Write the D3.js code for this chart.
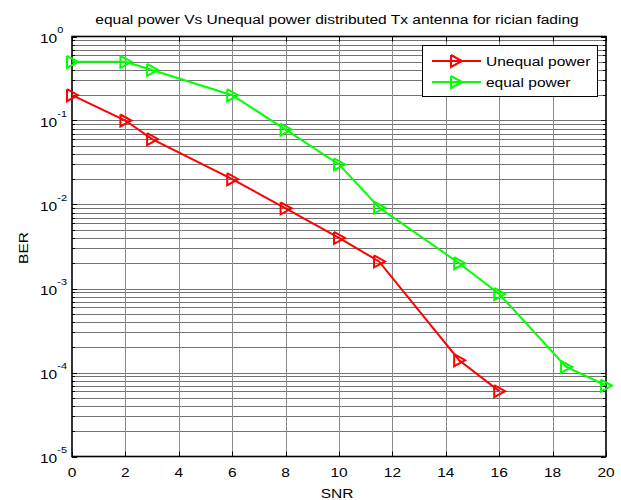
<!DOCTYPE html>
<html>
<head>
<meta charset="utf-8">
<script src="https://cdn.jsdelivr.net/npm/d3@7"></script>
<style>
  body { margin: 0; background: #fff; }
  svg text { font-family: 'Liberation Sans', Arial, sans-serif; fill: #000; }
</style>
</head>
<body>
<div id="chart"></div>
<script>
// values
const snrUnequal = [0, 2, 3, 6, 8, 10, 11.5, 14.5, 16]
const berUnequal = [0.2, 0.1, 0.06, 0.02, 0.009, 0.004, 0.0021, 1.4e-4, 6e-5]
const snrEqual = [0, 2, 3, 6, 8, 10, 11.5, 14.5, 16, 18.5, 20]
const berEqual = [0.5, 0.5, 0.4, 0.2, 0.078, 0.03, 0.0092, 0.002, 8.6e-4, 1.17e-4, 7e-5]
const xTicks = [0, 2, 4, 6, 8, 10, 12, 14, 16, 18, 20]
const yExponents = [0, -1, -2, -3, -4, -5]
const seriesNames = ['Unequal power', 'equal power']
const seriesColors = ['#ff0000', '#00ff00']

const W = 621, H = 500
const pLeft = 72, pRight = 606, pTop = 36.5, pBottom = 456.5
const fs = 13.5, sx = 1.15

const svg = d3.select('#chart').append('svg').attr('width', W).attr('height', H)

const x = d3.scaleLinear().domain([0, 20]).range([pLeft, pRight])
const y = d3.scaleLog().domain([1e-5, 1]).range([pBottom, pTop])

const txt = (tx, ty, s, anchor = 'start', extra = '') =>
  svg.append('text')
    .attr('transform', `translate(${tx},${ty}) ${extra} scale(${sx},1)`)
    .attr('text-anchor', anchor)
    .style('font-size', fs + 'px')
    .text(s)

// grid
const minors = []
yExponents.slice(1).forEach(e => {
  for (let m = 1; m <= 9; m++) minors.push(m * Math.pow(10, e))
})
const grid = svg.append('g').attr('stroke-width', 1)
grid.selectAll('line.h').data(minors.filter(v => v < 1 && v > 1e-5)).join('line')
  .attr('stroke', '#747474')
  .attr('x1', pLeft).attr('x2', pRight)
  .attr('y1', d => Math.round(y(d)) + 0.5).attr('y2', d => Math.round(y(d)) + 0.5)
grid.selectAll('line.v').data(xTicks.slice(1, -1)).join('line')
  .attr('stroke', '#8a8a8a')
  .attr('y1', pTop).attr('y2', pBottom)
  .attr('x1', d => Math.round(x(d)) + 0.5).attr('x2', d => Math.round(x(d)) + 0.5)

// ticks (inside, all four sides)
const ticks = svg.append('g').attr('stroke', '#000').attr('stroke-width', 1)
xTicks.forEach(v => {
  const px = Math.round(x(v)) + 0.5
  ticks.append('line').attr('x1', px).attr('x2', px).attr('y1', pBottom).attr('y2', pBottom - 5)
  ticks.append('line').attr('x1', px).attr('x2', px).attr('y1', pTop).attr('y2', pTop + 5)
})
minors.concat([1]).forEach(v => {
  const py = Math.round(y(v)) + 0.5
  const major = Math.abs(Math.log10(v) - Math.round(Math.log10(v))) < 1e-9
  const len = major ? 5 : 3
  ticks.append('line').attr('x1', pLeft).attr('x2', pLeft + len).attr('y1', py).attr('y2', py)
  ticks.append('line').attr('x1', pRight).attr('x2', pRight - len).attr('y1', py).attr('y2', py)
})

// axes box
svg.append('rect')
  .attr('x', pLeft).attr('y', pTop).attr('width', pRight - pLeft).attr('height', pBottom - pTop)
  .attr('fill', 'none').attr('stroke', '#000').attr('stroke-width', 1.6)

// tick labels
xTicks.forEach(v => txt(x(v), 476.5, v, 'middle'))
yExponents.forEach(e => {
  const t = txt(40, y(Math.pow(10, e)) + 6.5, '10')
  t.append('tspan').attr('dy', -10).style('font-size', '9.5px').text(e === 0 ? '0' : '-' + Math.abs(e))
})

// titles
txt(337, 24, 'equal power Vs Unequal power distributed Tx antenna for rician fading', 'middle')
txt(337, 498, 'SNR', 'middle')
txt(28, 248, 'BER', 'middle', 'rotate(-90)')

// series
const tri = d3.line()([[-5, -6], [6, 0], [-5, 6], [-5, -6]])
const series = [
  snrUnequal.map((s, i) => [s, berUnequal[i]]),
  snrEqual.map((s, i) => [s, berEqual[i]])
]
const line = d3.line().x(d => x(d[0])).y(d => y(d[1]))
series.forEach((pts, k) => {
  const g = svg.append('g')
  g.append('path').attr('d', line(pts)).attr('fill', 'none')
    .attr('stroke', seriesColors[k]).attr('stroke-width', 2)
  g.selectAll('path.m').data(pts).join('path')
    .attr('d', tri)
    .attr('transform', d => `translate(${x(d[0])},${y(d[1])})`)
    .attr('fill', 'none').attr('stroke', seriesColors[k]).attr('stroke-width', 2)
})

// legend
svg.append('rect').attr('x', 422.5).attr('y', 45.5).attr('width', 175).attr('height', 51)
  .attr('fill', '#fff').attr('stroke', '#000').attr('stroke-width', 1)
seriesNames.forEach((name, k) => {
  const ly = 61 + k * 21
  svg.append('line').attr('x1', 432).attr('x2', 481).attr('y1', ly).attr('y2', ly)
    .attr('stroke', seriesColors[k]).attr('stroke-width', 2)
  svg.append('path').attr('d', tri).attr('transform', `translate(456,${ly})`)
    .attr('fill', 'none').attr('stroke', seriesColors[k]).attr('stroke-width', 2)
  txt(486, ly + 5, name)
})
</script>
</body>
</html>
